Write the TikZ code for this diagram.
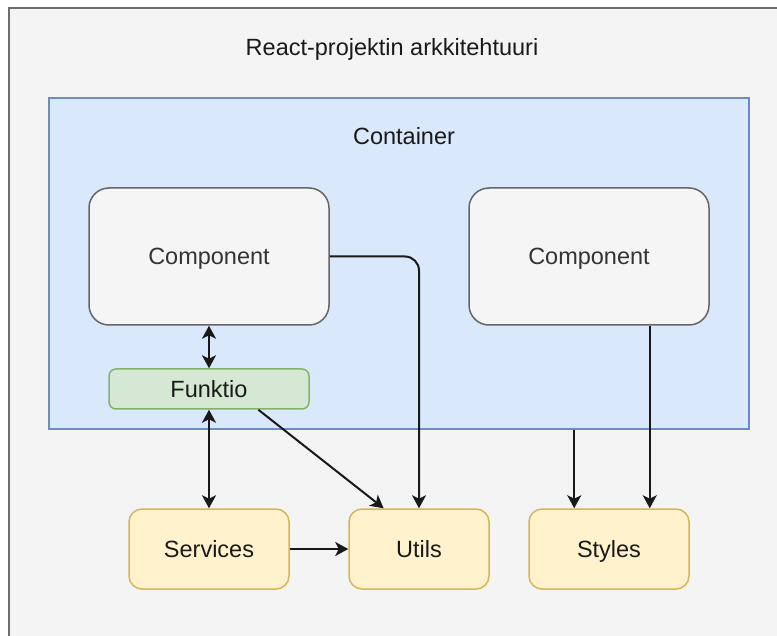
\documentclass[tikz,border=0pt]{standalone}
\usepackage{fontspec}
\setmainfont{Liberation Sans}
\usetikzlibrary{arrows.meta,calc}
\definecolor{framefill}{HTML}{F4F4F4}
\definecolor{framedraw}{HTML}{6E6E6E}
\definecolor{contfill}{HTML}{DAE8FC}
\definecolor{contdraw}{HTML}{6C8EBF}
\definecolor{compfill}{HTML}{F5F5F5}
\definecolor{compdraw}{HTML}{666666}
\definecolor{funcfill}{HTML}{D5E8D4}
\definecolor{funcdraw}{HTML}{82B366}
\definecolor{yelfill}{HTML}{FFF2CC}
\definecolor{yeldraw}{HTML}{D6B656}
\definecolor{txtgray}{HTML}{333333}
\definecolor{txtdark}{HTML}{1A1A1A}
\begin{document}
\begin{tikzpicture}[x=1pt,y=-1pt,
  every node/.style={font=\fontsize{23.5}{27}\selectfont, text=txtdark, text height=17pt, text depth=0pt},
  compbox/.style={draw=compdraw, fill=compfill, line width=1.5pt, rounded corners=20pt,
    minimum width=240pt, minimum height=137pt, text=txtgray},
  funcbox/.style={draw=funcdraw, fill=funcfill, line width=1.5pt, rounded corners=7pt,
    minimum width=200pt, minimum height=40pt},
  yelbox/.style={draw=yeldraw, fill=yelfill, line width=1.5pt, rounded corners=13pt,
    minimum height=80pt},
  tipsty/.style={Stealth[length=13pt,width=14pt,inset=3.5pt]},
  conn/.style={draw=black!90, line width=2pt, -{Stealth[length=13pt,width=14pt,inset=3.5pt]}},
  biconn/.style={draw=black!90, line width=2pt, {Stealth[length=13pt,width=14pt,inset=3.5pt]}-{Stealth[length=13pt,width=14pt,inset=3.5pt]}}
]
\useasboundingbox (0,0) rectangle (777,636);
\fill[white] (0,0) rectangle (777,636);
\draw[framedraw, fill=framefill, line width=1.6pt] (9,8) rectangle (800,660);
\node (title) at (392,47) {React-projektin arkkitehtuuri};
\node[draw=contdraw, fill=contfill, line width=1.5pt, minimum width=700pt, minimum height=331pt,
  inner sep=0pt] (container) at (399,263.5) {};
\node (contlabel) at (404,136) {Container};
\node[compbox] (comp1) at (209,256.5) {Component};
\node[compbox] (comp2) at (589,256.5) {Component};
\node[funcbox] (funktio) at (209,389) {Funktio};
\node[yelbox, minimum width=160pt] (services) at (209,549) {Services};
\node[yelbox, minimum width=140pt] (utils) at (419,549) {Utils};
\node[yelbox, minimum width=160pt] (styles) at (609,549) {Styles};
% connectors
\draw[biconn] (comp1.south) -- (funktio.north);
\draw[biconn] (funktio.south) -- (services.north);
\draw[conn] ($(funktio.south)!0.49!(funktio.south east)$) -- ($(utils.north west)!0.5!(utils.north)$);
\draw[conn, rounded corners=14pt] (comp1.east) -| (utils.north);
\draw[conn] (services.east) -- (utils.west);
\coordinate (stylesin1) at ([xshift=46pt]styles.north west);
\coordinate (stylesin2) at ([xshift=-40pt]styles.north east);
\draw[conn] (container.south -| stylesin1) -- (stylesin1);
\draw[conn] (comp2.south -| stylesin2) -- (stylesin2);
\end{tikzpicture}
\end{document}
